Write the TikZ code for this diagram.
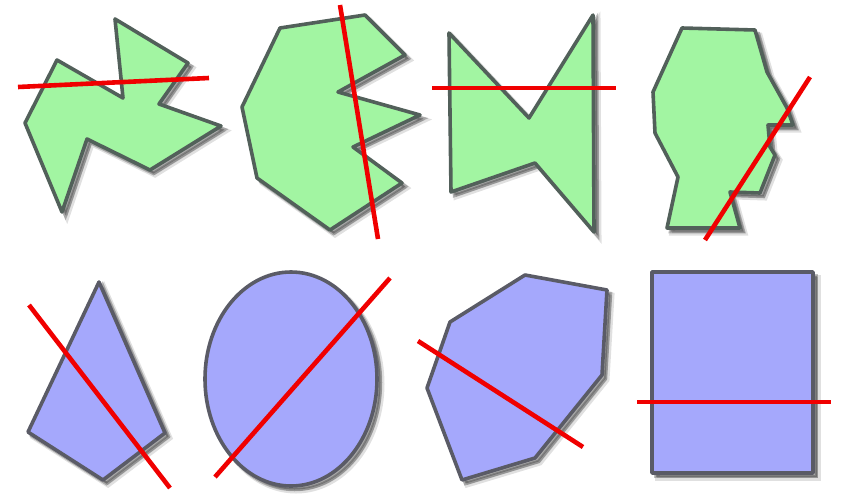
\documentclass[tikz,border=0pt]{standalone}
\definecolor{gfill}{HTML}{A2F5A2}
\definecolor{gline}{HTML}{52605A}
\definecolor{bfill}{HTML}{A5A8FC}
\definecolor{bline}{HTML}{5A5B66}
\definecolor{cut}{HTML}{F00000}
\tikzset{
  shad/.style={preaction={draw=black, fill=black, line width=5pt, opacity=0.12, transform canvas={shift={(5pt,-5pt)}}},
               preaction={draw=black, fill=black, line width=3.5pt, opacity=0.25, transform canvas={shift={(3.5pt,-3.5pt)}}}},
  gpoly/.style={shad, fill=gfill, draw=gline, line width=3.6pt, line join=round},
  bpoly/.style={shad, fill=bfill, draw=bline, line width=3.6pt, line join=round},
  cutline/.style={draw=cut, line width=4.6pt}
}
\begin{document}
\begin{tikzpicture}[x={(1pt,0)}, y={(0,-1pt)}]
\useasboundingbox (0,0) rectangle (843,493);
% panel 1
\draw[gpoly] (57,60) -- (123,98) -- (115,19) -- (188,63) -- (159,104) -- (221,126) -- (150,170) -- (87,139) -- (62,212) -- (25,123) -- cycle;
\draw[cutline] (18,87) -- (209,78);
% panel 2
\draw[gpoly] (280,28) -- (365,15) -- (405,55) -- (338,92) -- (420,115) -- (353,147) -- (402,183) -- (330,230) -- (257,178) -- (242,107) -- cycle;
\draw[cutline] (340,5) -- (378,239);
% panel 3
\draw[gpoly] (449,33) -- (529,118) -- (593,15) -- (594,232) -- (535,163) -- (451,192) -- cycle;
\draw[cutline] (432,88) -- (616,88);
% panel 4
\draw[gpoly] (682,28) -- (755,30) -- (767,72) -- (787,108) -- (793,125) -- (768,125) -- (770,147) -- (775,155) -- (760,193) -- (730,192) -- (740,228) -- (667,228) -- (678,177) -- (655,133) -- (653,92) -- cycle;
\draw[cutline] (810,77) -- (705,240);
% panel 5
\draw[bpoly] (99,282) -- (165,433) -- (103,480) -- (28,432) -- cycle;
\draw[cutline] (29,305) -- (170,488);
% panel 6
\draw[bpoly] (291,379) ellipse [x radius=86, y radius=107];
\draw[cutline] (215,477) -- (390,278);
% panel 7
\draw[bpoly] (525,275) -- (607,290) -- (602,375) -- (535,458) -- (462,480) -- (427,388) -- (450,322) -- cycle;
\draw[cutline] (418,341) -- (583,447);
% panel 8
\draw[bpoly] (652,272) rectangle (813,473);
\draw[cutline] (637,402) -- (831,402);
\end{tikzpicture}
\end{document}
